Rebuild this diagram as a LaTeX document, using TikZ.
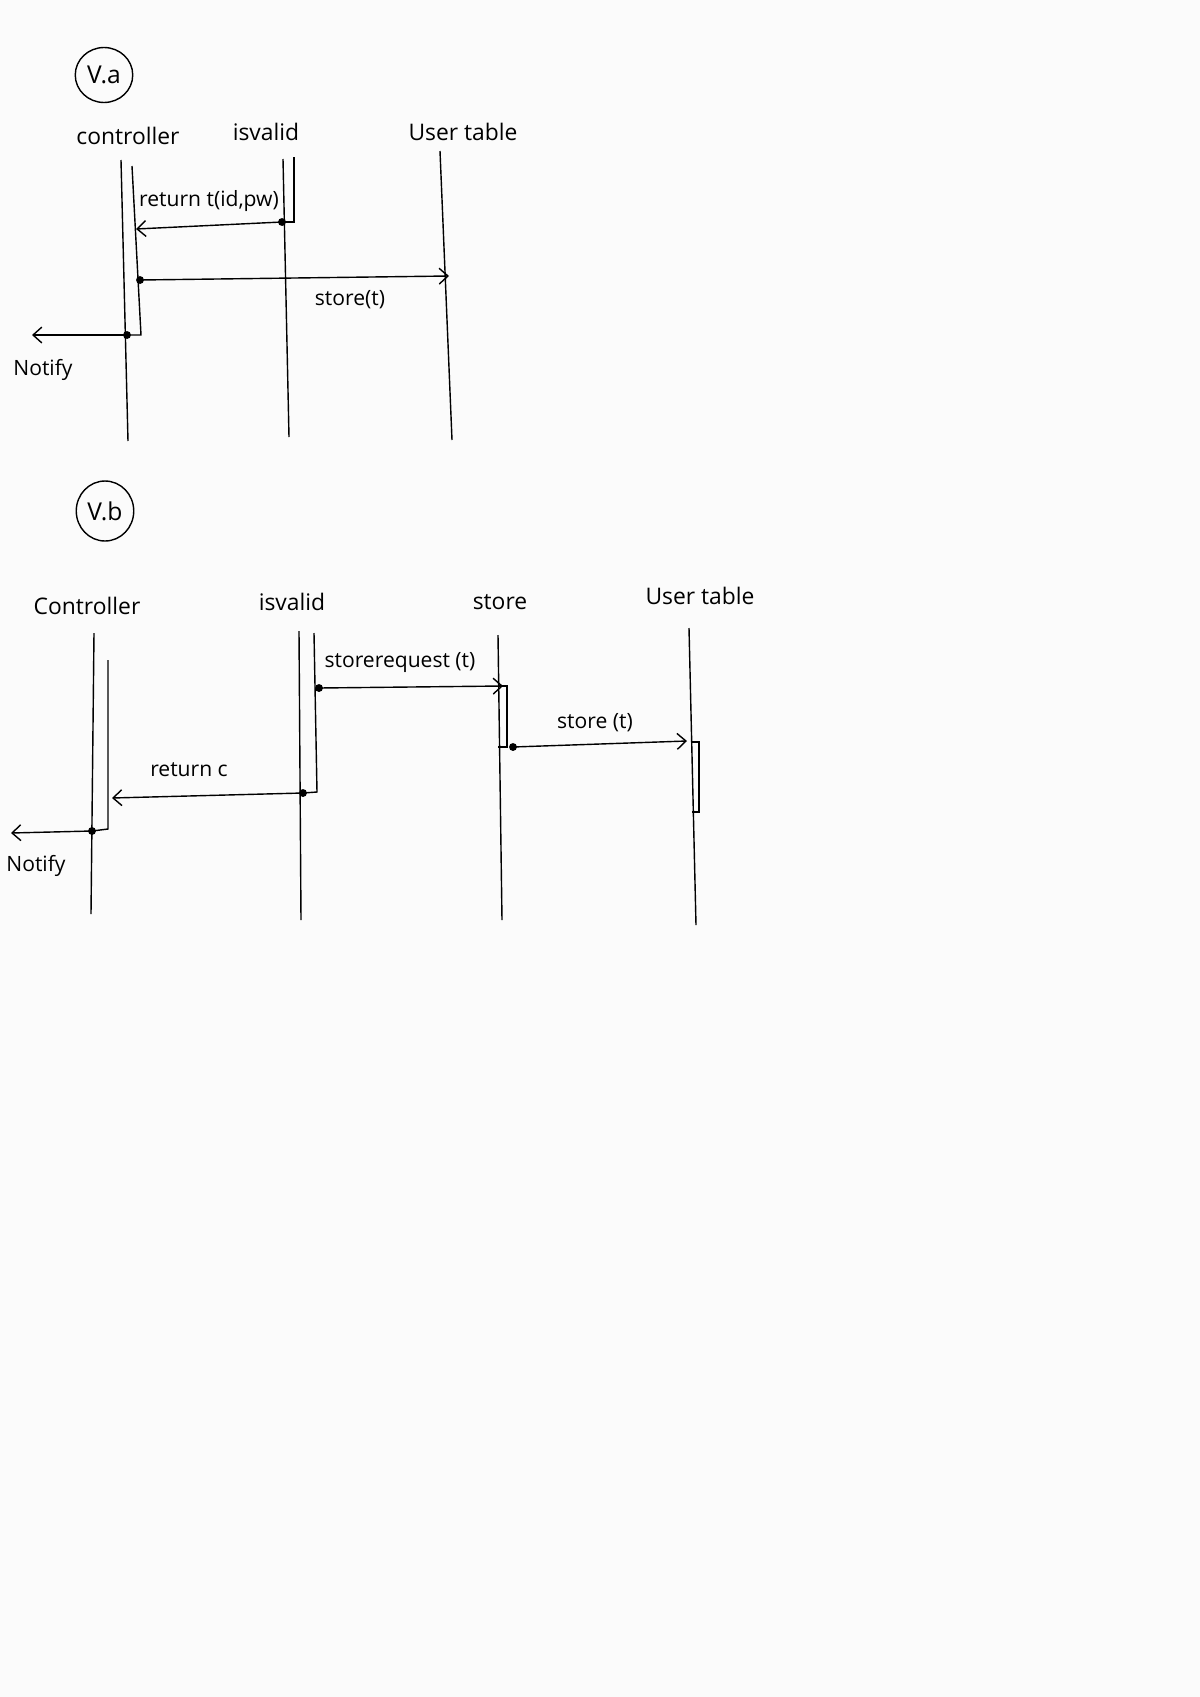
\documentclass[tikz,border=0pt]{standalone}
\usepackage{fontspec}
\setmainfont{Open Sans}
\usetikzlibrary{arrows.meta, shapes.geometric}
\definecolor{pagebg}{RGB}{251,251,251}
\begin{document}
\begin{tikzpicture}[x=0.02cm, y=-0.02cm, line width=0.8pt,
    >={Straight Barb[length=5pt, width=9pt]},
    lbl/.style={font=\fontsize{13}{15}\selectfont, inner sep=1pt},
    msglbl/.style={font=\fontsize{12}{14}\selectfont, inner sep=1pt},
    tag/.style={draw, ellipse, minimum width=1.15cm, minimum height=1.1cm, inner sep=0pt, font=\fontsize{14}{16}\selectfont},
    dot/.style={circle, fill=black, inner sep=0pt, minimum size=4.5pt},
    msg/.style={->, shorten <=-2pt}]
    \fill[pagebg] (0,0) rectangle (1200,1697);
    \useasboundingbox (0,0) rectangle (1200,1697);

    % Part a
    \node[tag] (va) at (104,75) {V.a};

    % Headers
    \node[lbl] (a-ctr) at (128,136) {controller};
    \node[lbl] (a-val) at (266,132) {isvalid};
    \node[lbl] (a-tab) at (463,132) {User table};

    % Lifelines
    \draw (121,160) -- (128,441);
    \draw (283,159) -- (289,437);
    \draw (440,151) -- (452,440);

    % Activation bars
    \draw (132,166) -- (141,335) -- (127,335);
    \draw (294,157) -- (294,222) -- (282,222);

    % Messages
    \node[dot] (a-d1) at (282,222) {};
    \coordinate (a-e1) at (136,229);
    \draw[msg] (a-d1) -- (a-e1);
    \node[msglbl] (a-m1) at (209,201) {return t(id,pw)};

    \node[dot] (a-d2) at (140,280) {};
    \coordinate (a-e2) at (449,276);
    \draw[msg] (a-d2) -- (a-e2);
    \node[msglbl] (a-m2) at (350,300) {store(t)};

    \node[dot] (a-d3) at (127,335) {};
    \coordinate (a-e3) at (32,335);
    \draw[msg] (a-d3) -- (a-e3);
    \node[msglbl] (a-m3) at (43,370) {Notify};

    % Part b
    \node[tag, minimum height=1.2cm] (vb) at (105,511) {V.b};

    % Headers
    \node[lbl] (b-ctr) at (87,606) {Controller};
    \node[lbl] (b-val) at (292,602) {isvalid};
    \node[lbl] (b-sto) at (500,602) {store};
    \node[lbl] (b-tab) at (700,596) {User table};

    % Lifelines
    \draw (94,633) -- (91,914);
    \draw (299,631) -- (301,920);
    \draw (498,635) -- (502,920);
    \draw (689,628) -- (696,925);

    % Activation bars
    \draw (108,660) -- (108,829) -- (92,831);
    \draw (314,633) -- (317,792) -- (303,793);
    \draw (498,686) -- (507,686) -- (507,747) -- (498,747);
    \draw (691,742) -- (699,742) -- (699,812) -- (692,812);

    % Messages
    \node[dot] (b-d1) at (319,688) {};
    \coordinate (b-e1) at (503,686);
    \draw[msg] (b-d1) -- (b-e1);
    \node[msglbl] (b-m1) at (400,662) {storerequest (t)};

    \node[dot] (b-d2) at (513,747) {};
    \coordinate (b-e2) at (687,741);
    \draw[msg] (b-d2) -- (b-e2);
    \node[msglbl] (b-m2) at (595,723) {store (t)};

    \node[dot] (b-d3) at (303,793) {};
    \coordinate (b-e3) at (112,798);
    \draw[msg] (b-d3) -- (b-e3);
    \node[msglbl] (b-m3) at (189,770) {return c};

    \node[dot] (b-d4) at (92,831) {};
    \coordinate (b-e4) at (11,833);
    \draw[msg] (b-d4) -- (b-e4);
    \node[msglbl] (b-m4) at (36,866) {Notify};

\end{tikzpicture}
\end{document}
